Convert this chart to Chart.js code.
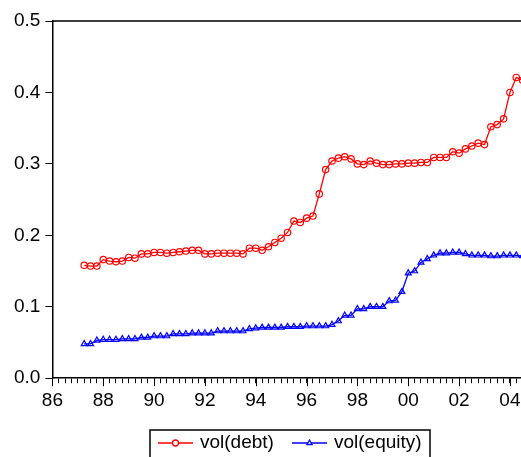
<!DOCTYPE html>
<html>
<head>
<meta charset="utf-8">
<script src="https://cdn.jsdelivr.net/npm/chart.js@4/dist/chart.umd.min.js"></script>
<style>
    html, body { margin: 0; padding: 0; background: #fff; }
    #wrap { width: 521px; height: 457px; overflow: hidden; position: relative; }
    #chart { position: absolute; left: 0; top: 0; }
</style>
</head>
<body>
<div id="wrap"><canvas id="chart" width="580" height="465"></canvas></div>
<script>
// Quarterly observations, 1987Q2 .. 2004Q3
const quarters = [
    '1987Q2','1987Q3','1987Q4','1988Q1','1988Q2','1988Q3','1988Q4','1989Q1','1989Q2','1989Q3','1989Q4',
    '1990Q1','1990Q2','1990Q3','1990Q4','1991Q1','1991Q2','1991Q3','1991Q4','1992Q1','1992Q2','1992Q3','1992Q4',
    '1993Q1','1993Q2','1993Q3','1993Q4','1994Q1','1994Q2','1994Q3','1994Q4','1995Q1','1995Q2','1995Q3','1995Q4',
    '1996Q1','1996Q2','1996Q3','1996Q4','1997Q1','1997Q2','1997Q3','1997Q4','1998Q1','1998Q2','1998Q3','1998Q4',
    '1999Q1','1999Q2','1999Q3','1999Q4','2000Q1','2000Q2','2000Q3','2000Q4','2001Q1','2001Q2','2001Q3','2001Q4',
    '2002Q1','2002Q2','2002Q3','2002Q4','2003Q1','2003Q2','2003Q3','2003Q4','2004Q1','2004Q2','2004Q3'
];

const volDebt = [
    0.158, 0.157, 0.157, 0.166, 0.164, 0.163, 0.164, 0.169, 0.168, 0.174, 0.174, 0.176, 0.176,
    0.175, 0.176, 0.177, 0.178, 0.179, 0.179, 0.174, 0.174, 0.175, 0.175, 0.175, 0.175, 0.174,
    0.182, 0.182, 0.179, 0.184, 0.190, 0.196, 0.204, 0.220, 0.218, 0.224, 0.227, 0.258, 0.292,
    0.304, 0.308, 0.310, 0.307, 0.300, 0.299, 0.304, 0.301, 0.299, 0.299, 0.300, 0.300, 0.301, 0.301, 0.302,
    0.302, 0.309, 0.309, 0.309, 0.317, 0.315, 0.321, 0.325, 0.329, 0.327, 0.352, 0.355, 0.363, 0.400, 0.421, 0.417
];

const volEquity = [
    0.048, 0.048, 0.053, 0.054, 0.054, 0.054, 0.055, 0.055, 0.055, 0.057, 0.057, 0.059, 0.059,
    0.059, 0.062, 0.062, 0.062, 0.063, 0.063, 0.063, 0.063, 0.066, 0.066, 0.066, 0.066, 0.066,
    0.069, 0.070, 0.071, 0.071, 0.071, 0.071, 0.072, 0.072, 0.072, 0.073, 0.073, 0.073, 0.073,
    0.075, 0.080, 0.088, 0.088, 0.097, 0.097, 0.100, 0.100, 0.100, 0.108, 0.109, 0.121, 0.147, 0.150, 0.162,
    0.167, 0.172, 0.175, 0.175, 0.176, 0.176, 0.174, 0.172, 0.172, 0.172, 0.171, 0.171, 0.172, 0.172, 0.172, 0.171
];

const yTicks = [0.0, 0.1, 0.2, 0.3, 0.4, 0.5];
const labelledYears = [1986, 1988, 1990, 1992, 1994, 1996, 1998, 2000, 2002, 2004];
const seriesNames = ['vol(debt)', 'vol(equity)'];

const FONT = "'Liberation Sans', Arial, sans-serif";

// quarter string -> decimal year at start of quarter
function quarterToX(q) {
    return parseInt(q.slice(0, 4)) + (parseInt(q.slice(5)) - 1) / 4;
}

const debtPoints = quarters.map((q, i) => ({ x: quarterToX(q), y: volDebt[i] }));
const equityPoints = quarters.map((q, i) => ({ x: quarterToX(q), y: volEquity[i] }));

// top frame, long ticks on labelled years, boxed legend
const framePlugin = {
    id: 'frame',
    afterDraw(chart) {
        const ctx = chart.ctx;
        const a = chart.chartArea;
        const xs = chart.scales.x;
        ctx.save();
        ctx.strokeStyle = '#000';
        ctx.lineWidth = 1.5;
        ctx.beginPath();
        ctx.moveTo(a.left, a.top);
        ctx.lineTo(a.right, a.top);
        ctx.lineTo(a.right, a.bottom);
        ctx.stroke();

        ctx.lineWidth = 1;
        ctx.beginPath();
        labelledYears.forEach(yr => {
            const px = Math.round(xs.getPixelForValue(yr)) + 0.5;
            ctx.moveTo(px, a.bottom);
            ctx.lineTo(px, a.bottom + 8);
        });
        ctx.stroke();

        // legend
        const boxLeft = 150, boxTop = 430, boxW = 280, boxH = 34;
        ctx.lineWidth = 1.5;
        ctx.strokeRect(boxLeft, boxTop, boxW, boxH);
        const cy = 443;
        const items = [
            { color: '#ff0000', style: 'circle', x0: boxLeft + 8 },
            { color: '#0000ff', style: 'triangle', x0: boxLeft + 142 }
        ];
        ctx.font = '19px ' + FONT;
        ctx.textBaseline = 'middle';
        items.forEach((it, i) => {
            ctx.strokeStyle = it.color;
            ctx.lineWidth = 1.3;
            ctx.beginPath();
            ctx.moveTo(it.x0, cy);
            ctx.lineTo(it.x0 + 35, cy);
            ctx.stroke();
            ctx.fillStyle = '#fff';
            Chart.helpers.drawPoint(ctx, { pointStyle: it.style, radius: 3, borderWidth: 1.2 }, it.x0 + 17.5, cy);
            ctx.fillStyle = '#000';
            ctx.fillText(seriesNames[i], it.x0 + 42, cy);
        });
        ctx.restore();
    }
};

new Chart(document.getElementById('chart'), {
    type: 'line',
    data: {
        datasets: [
            {
                label: seriesNames[0],
                data: debtPoints,
                borderColor: '#ff0000',
                borderWidth: 1.3,
                pointStyle: 'circle',
                pointRadius: 3.2,
                pointBorderWidth: 1.2,
                pointBorderColor: '#ff0000',
                pointBackgroundColor: 'rgba(0,0,0,0)',
                tension: 0
            },
            {
                label: seriesNames[1],
                data: equityPoints,
                borderColor: '#0000ff',
                borderWidth: 1.3,
                pointStyle: 'triangle',
                pointRadius: 3.4,
                pointBorderWidth: 1.2,
                pointBorderColor: '#0000ff',
                pointBackgroundColor: 'rgba(0,0,0,0)',
                tension: 0
            }
        ]
    },
    options: {
        responsive: false,
        animation: false,
        devicePixelRatio: 1,
        clip: false,
        layout: {
            padding: { left: 9, right: 51, top: 21, bottom: 47 }
        },
        scales: {
            x: {
                type: 'linear',
                min: 1986,
                max: 2004.75,
                border: { color: '#000', width: 1.5 },
                grid: { drawOnChartArea: false, drawTicks: true, tickLength: 5, color: '#000' },
                ticks: {
                    stepSize: 0.25,
                    autoSkip: false,
                    maxRotation: 0,
                    minRotation: 0,
                    padding: 6,
                    color: '#000',
                    font: { family: FONT, size: 19 },
                    callback: function(v) {
                        const r = Math.round(v);
                        if (Math.abs(v - r) > 1e-6 || !labelledYears.includes(r)) return '';
                        return String(r % 100).padStart(2, '0');
                    }
                }
            },
            y: {
                min: 0,
                max: 0.5,
                border: { color: '#000', width: 1.5 },
                grid: { drawOnChartArea: false, drawTicks: true, tickLength: 7, color: '#000' },
                afterBuildTicks: function(scale) {
                    scale.ticks = yTicks.map(v => ({ value: v }));
                },
                ticks: {
                    padding: 5,
                    color: '#000',
                    font: { family: FONT, size: 19 },
                    callback: v => v.toFixed(1)
                }
            }
        },
        plugins: {
            legend: { display: false },
            tooltip: { enabled: false }
        }
    },
    plugins: [framePlugin]
});
</script>
</body>
</html>
